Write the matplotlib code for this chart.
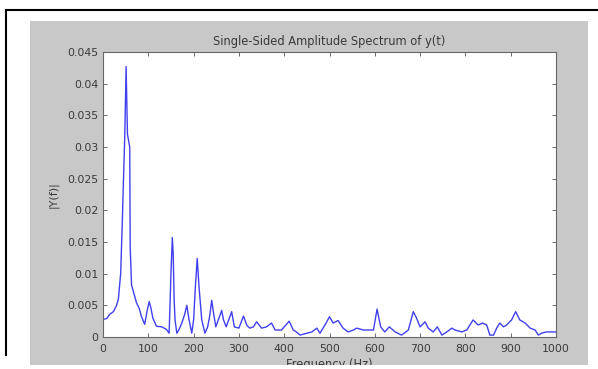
import numpy as np
import matplotlib.pyplot as plt
from matplotlib.patches import Rectangle
from matplotlib.lines import Line2D

# single-sided amplitude spectrum
freq = [0, 8, 15, 23, 30, 34, 39, 43, 45, 48, 51, 54, 59, 60, 63, 74, 80, 85,
        92, 97, 102, 106, 110, 118, 130, 140, 146, 150, 153, 155, 157, 159, 163,
        168, 174, 180, 185, 190, 196, 200, 204, 208, 212, 218, 225, 231, 236,
        240, 244, 249, 255, 262, 266, 272, 278, 284, 290, 300, 310, 318, 324,
        332, 339, 350, 361, 372, 380, 394, 411, 420, 427, 435, 450, 461, 472,
        479, 490, 500, 508, 519, 530, 541, 553, 560, 575, 597, 605, 613, 622,
        632, 645, 659, 674, 685, 692, 700, 711, 718, 729, 738, 748, 759, 770,
        777, 792, 803, 817, 828, 838, 847, 854, 862, 869, 876, 884, 891, 902,
        911, 920, 932, 943, 954, 961, 968, 979, 990, 1000]
amp = [0.0028, 0.0029, 0.0036, 0.0040, 0.0050, 0.0060, 0.0100, 0.0190, 0.0243,
       0.0316, 0.0427, 0.0320, 0.0300, 0.0143, 0.0082, 0.0054, 0.0045, 0.0032,
       0.0020, 0.0040, 0.0056, 0.0045, 0.0030, 0.0017, 0.0016, 0.0012, 0.0006,
       0.0100, 0.0157, 0.0130, 0.0060, 0.0027, 0.0006, 0.0012, 0.0022, 0.0035,
       0.0050, 0.0027, 0.0006, 0.0027, 0.0080, 0.0124, 0.0079, 0.0027, 0.0006,
       0.0016, 0.0035, 0.0058, 0.0038, 0.0016, 0.0028, 0.0042, 0.0027, 0.0016,
       0.0028, 0.0040, 0.0016, 0.0014, 0.0033, 0.0018, 0.0014, 0.0016, 0.0024,
       0.0014, 0.0016, 0.0022, 0.0011, 0.0011, 0.0025, 0.0011, 0.0008, 0.0003,
       0.0006, 0.0008, 0.0014, 0.0006, 0.0019, 0.0032, 0.0022, 0.0026, 0.0014,
       0.0008, 0.0011, 0.0014, 0.0011, 0.0011, 0.0044, 0.0016, 0.0008, 0.0016,
       0.0008, 0.0003, 0.0011, 0.0040, 0.0030, 0.0016, 0.0024, 0.0014, 0.0008,
       0.0016, 0.0003, 0.0008, 0.0014, 0.0011, 0.0008, 0.0011, 0.0027, 0.0019,
       0.0022, 0.0019, 0.0003, 0.0003, 0.0014, 0.0022, 0.0016, 0.0019, 0.0027,
       0.0040, 0.0027, 0.0022, 0.0014, 0.0011, 0.0003, 0.0006, 0.0008, 0.0008,
       0.0008]

xticks = np.arange(0, 1001, 100)
yticks = np.arange(0, 0.0451, 0.005)
ytick_labels = ["0", "0.005", "0.01", "0.015", "0.02", "0.025", "0.03",
                "0.035", "0.04", "0.045"]

plt.rcParams['font.family'] = ['DejaVu Sans']
txt = '#3a3a3a'

fig = plt.figure(figsize=(5.98, 3.69), dpi=100, facecolor='white')

# grey matlab figure window
grey = Rectangle((30 / 598, 1 - 365 / 369), 558 / 598, 344 / 369,
                 transform=fig.transFigure, facecolor='#c8c8c8',
                 edgecolor='none', zorder=-10)
fig.patches.append(grey)
# black page frame
fig.lines.append(Line2D([6 / 598, 6 / 598], [1 - 355 / 369, 1 - 10 / 369],
                        transform=fig.transFigure, color='black', lw=1.5))
fig.lines.append(Line2D([6 / 598, 1.0], [1 - 10 / 369, 1 - 10 / 369],
                        transform=fig.transFigure, color='black', lw=1.5))

ax = fig.add_axes([103 / 598, 1 - 337 / 369, 453 / 598, 285 / 369])
ax.plot(freq, amp, color='#4040f0', lw=1.0)
ax.set_xlim(0, 1000)
ax.set_ylim(0, 0.045)
ax.set_xticks(xticks)
ax.set_yticks(yticks)
ax.set_yticklabels(ytick_labels)
ax.tick_params(axis='x', pad=5)
ax.tick_params(direction='in', top=True, right=True, length=3, width=0.6,
               colors='#555555', labelcolor=txt, labelsize=7.8)
for s in ax.spines.values():
    s.set_color('#666666')
    s.set_linewidth(0.8)

ax.set_title("Single-Sided Amplitude Spectrum of y(t)", fontsize=8.3,
             color=txt, pad=5)
ax.set_ylabel("|Y(f)|", fontsize=8, color=txt, labelpad=6)
xl = ax.set_xlabel("Frequency (Hz)", fontsize=8.3, color=txt, labelpad=3)
xl.set_clip_path(grey)
xl.set_clip_on(True)

fig.savefig("out.png", dpi=100, facecolor='white')
